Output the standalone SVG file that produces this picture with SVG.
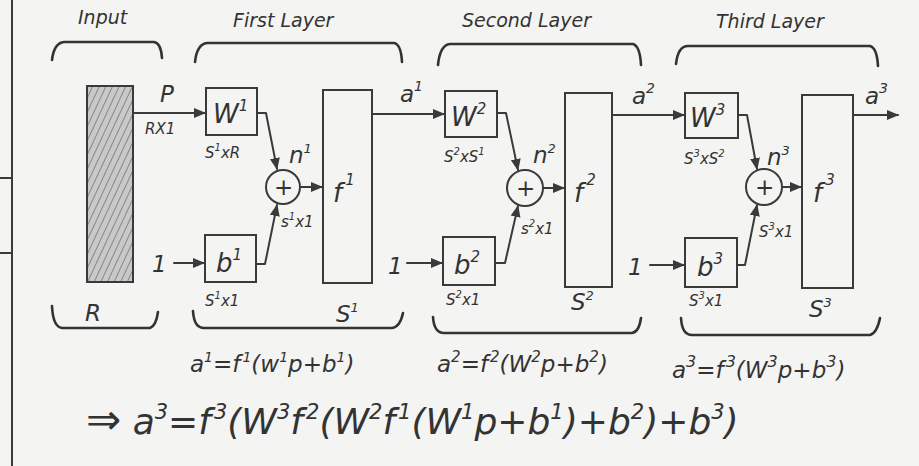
<svg xmlns="http://www.w3.org/2000/svg" width="919" height="466" viewBox="0 0 919 466">
<style>
.bg{fill:#f4f4f2}
.ln{fill:none;stroke:#3a3a3a;stroke-width:2;stroke-linecap:round;stroke-linejoin:round}
.bx{fill:none;stroke:#3a3a3a;stroke-width:2}
.br{fill:none;stroke:#333;stroke-width:2.6;stroke-linecap:round;stroke-linejoin:round}
text{font-family:"DejaVu Sans","Liberation Sans",sans-serif;font-style:oblique;fill:#333}
.ttl{font-size:19px}
.lab{font-size:23px}
.box{font-size:26px}
.dim{font-size:15px}
.eq{font-size:23px}
.fin{font-size:36px}
</style>
<defs>
<marker id="ah" markerUnits="userSpaceOnUse" markerWidth="14" markerHeight="12" refX="11" refY="6" orient="auto">
<path d="M0,1 L12,6 L0,11 Z" fill="#3a3a3a"/>
</marker>
<pattern id="hatch" patternUnits="userSpaceOnUse" width="6" height="6" patternTransform="rotate(25)">
<rect width="6" height="6" fill="#c9c9c9"/>
<line x1="0" y1="0" x2="0" y2="6" stroke="#808080" stroke-width="1.8"/>
</pattern>
</defs>
<rect class="bg" x="0" y="0" width="919" height="466"/>
<g id="margin">
<path class="ln" d="M12,0 V466"/>
<path class="ln" d="M0,178 H11 M0,253 H11" stroke-width="1"/>
</g>
<g id="titles">
<text class="ttl" x="78" y="24">Input</text>
<text class="ttl" x="233" y="27">First Layer</text>
<text class="ttl" x="462" y="27">Second Layer</text>
<text class="ttl" x="716" y="28">Third Layer</text>
</g>
<g id="braces">
<path class="br" d="M52,60 Q54,43 64,42 H154 Q161,43 162,58"/>
<path class="br" d="M195,62 Q197,44 207,43 H394 Q401,44 402,62"/>
<path class="br" d="M438,65 Q440,45 450,44 H633 Q640,46 641,65"/>
<path class="br" d="M676,64 Q678,46 688,46 H870 Q877,48 878,66"/>
<path class="br" d="M52,306 Q53,327 62,328 H150 Q156,326 158,312"/>
<path class="br" d="M193,311 Q194,328 204,328 H392 Q400,327 403,313"/>
<path class="br" d="M433,317 Q434,333 444,333 H632 Q639,332 641,318"/>
<path class="br" d="M681,318 Q682,335 692,335 H870 Q877,333 880,318"/>
</g>
<g id="input">
<rect x="87" y="86" width="46" height="196" fill="url(#hatch)" stroke="#3a3a3a" stroke-width="2"/>
<text class="lab" x="85" y="321" font-size="26" font-style="normal">R</text>
</g>
<g id="W1"><rect class="bx" x="206" y="88" width="51" height="47"/><text class="box" x="213" y="123">W<tspan font-size="15" dy="-12">1</tspan></text></g>
<g id="b1"><rect class="bx" x="205" y="235" width="51" height="47"/><text class="box" x="216" y="272">b<tspan font-size="15" dy="-12">1</tspan></text></g>
<g id="sum1"><circle class="bx" cx="283" cy="187" r="17"/><text class="lab" x="274" y="195" font-style="normal">+</text></g>
<g id="f1"><rect class="bx" x="323" y="90" width="49" height="193"/><text class="box" x="333" y="202" font-size="30">f<tspan font-size="15" dx="3" dy="-17">1</tspan></text></g>
<g id="W2"><rect class="bx" x="445" y="91" width="52" height="46"/><text class="box" x="451" y="126">W<tspan font-size="15" dy="-12">2</tspan></text></g>
<g id="b2"><rect class="bx" x="443" y="237" width="52" height="48"/><text class="box" x="454" y="274">b<tspan font-size="15" dy="-12">2</tspan></text></g>
<g id="sum2"><circle class="bx" cx="525" cy="188" r="18"/><text class="lab" x="516" y="196" font-style="normal">+</text></g>
<g id="f2"><rect class="bx" x="565" y="93" width="47" height="194"/><text class="box" x="574" y="202" font-size="30">f<tspan font-size="15" dx="3" dy="-17">2</tspan></text></g>
<g id="W3"><rect class="bx" x="685" y="93" width="53" height="45"/><text class="box" x="690" y="127">W<tspan font-size="15" dy="-12">3</tspan></text></g>
<g id="b3"><rect class="bx" x="685" y="238" width="52" height="49"/><text class="box" x="697" y="276">b<tspan font-size="15" dy="-12">3</tspan></text></g>
<g id="sum3"><circle class="bx" cx="764" cy="187" r="18"/><text class="lab" x="755" y="195" font-style="normal">+</text></g>
<g id="f3"><rect class="bx" x="802" y="95" width="51" height="193"/><text class="box" x="813" y="202" font-size="30">f<tspan font-size="15" dx="3" dy="-17">3</tspan></text></g>
<g id="connectors">
<path class="ln" d="M133,113 H205" marker-end="url(#ah)"/>
<path class="ln" d="M174,263 H204" marker-end="url(#ah)"/>
<path class="ln" d="M257,113 H266 L277,169" marker-end="url(#ah)"/>
<path class="ln" d="M256,264 H265 L277,205" marker-end="url(#ah)"/>
<path class="ln" d="M300,187 H322" marker-end="url(#ah)"/>
<path class="ln" d="M372,114 H444" marker-end="url(#ah)"/>
<path class="ln" d="M407,263 H442" marker-end="url(#ah)"/>
<path class="ln" d="M497,113 H506 L518,170" marker-end="url(#ah)"/>
<path class="ln" d="M495,263 H505 L518,206" marker-end="url(#ah)"/>
<path class="ln" d="M543,188 H564" marker-end="url(#ah)"/>
<path class="ln" d="M612,115 H684" marker-end="url(#ah)"/>
<path class="ln" d="M650,265 H684" marker-end="url(#ah)"/>
<path class="ln" d="M738,115 H747 L757,169" marker-end="url(#ah)"/>
<path class="ln" d="M737,265 H745 L757,205" marker-end="url(#ah)"/>
<path class="ln" d="M782,187 H801" marker-end="url(#ah)"/>
<path class="ln" d="M853,115 H898" marker-end="url(#ah)"/>
</g>
<g id="labels">
<text class="lab" x="160" y="102" font-size="25">P</text>
<text class="dim" x="145" y="134" font-size="12">RX1</text>
<text class="dim" x="205" y="158">S<tspan font-size="10" dy="-7">1</tspan><tspan dy="7">xR</tspan></text>
<text class="lab" x="289" y="163" font-size="20">n<tspan font-size="13" dy="-10">1</tspan></text>
<text class="dim" x="281" y="227">s<tspan font-size="10" dy="-7">1</tspan><tspan dy="7">x1</tspan></text>
<text class="lab" x="152" y="272" font-size="25" font-style="normal">1</text>
<text class="dim" x="205" y="306">S<tspan font-size="10" dy="-7">1</tspan><tspan dy="7">x1</tspan></text>
<text class="lab" x="336" y="322" font-size="21">S<tspan font-size="13" dy="-10">1</tspan></text>
<text class="lab" x="400" y="102" font-size="25">a<tspan font-size="14" dy="-11">1</tspan></text>
<text class="dim" x="444" y="162">S<tspan font-size="10" dy="-7">2</tspan><tspan dy="7">xS</tspan><tspan font-size="10" dy="-7">1</tspan></text>
<text class="lab" x="533" y="163" font-size="20">n<tspan font-size="13" dy="-10">2</tspan></text>
<text class="dim" x="521" y="234">s<tspan font-size="10" dy="-7">2</tspan><tspan dy="7">x1</tspan></text>
<text class="lab" x="388" y="274" font-size="25" font-style="normal">1</text>
<text class="dim" x="446" y="305">S<tspan font-size="10" dy="-7">2</tspan><tspan dy="7">x1</tspan></text>
<text class="lab" x="571" y="310" font-size="21">S<tspan font-size="13" dy="-10">2</tspan></text>
<text class="lab" x="632" y="104" font-size="25">a<tspan font-size="14" dy="-11">2</tspan></text>
<text class="dim" x="684" y="164">S<tspan font-size="10" dy="-7">3</tspan><tspan dy="7">xS</tspan><tspan font-size="10" dy="-7">2</tspan></text>
<text class="lab" x="767" y="165" font-size="20">n<tspan font-size="13" dy="-10">3</tspan></text>
<text class="dim" x="759" y="237">S<tspan font-size="10" dy="-7">3</tspan><tspan dy="7">x1</tspan></text>
<text class="lab" x="628" y="275" font-size="25" font-style="normal">1</text>
<text class="dim" x="689" y="306">S<tspan font-size="10" dy="-7">3</tspan><tspan dy="7">x1</tspan></text>
<text class="lab" x="809" y="317" font-size="21">S<tspan font-size="13" dy="-10">3</tspan></text>
<text class="lab" x="865" y="104" font-size="25">a<tspan font-size="14" dy="-11">3</tspan></text>
</g>
<g id="equations">
<text class="eq" x="190" y="372">a<tspan font-size="14" dy="-10">1</tspan><tspan dy="10">=f</tspan><tspan font-size="14" dx="2" dy="-10">1</tspan><tspan dy="10">(w</tspan><tspan font-size="14" dy="-10">1</tspan><tspan dy="10">p+b</tspan><tspan font-size="14" dy="-10">1</tspan><tspan dy="10">)</tspan></text>
<text class="eq" x="437" y="372" font-size="24">a<tspan font-size="15" dy="-10">2</tspan><tspan dy="10">=f</tspan><tspan font-size="15" dx="2" dy="-10">2</tspan><tspan dy="10">(W</tspan><tspan font-size="15" dy="-10">2</tspan><tspan dy="10">p+b</tspan><tspan font-size="15" dy="-10">2</tspan><tspan dy="10">)</tspan></text>
<text class="eq" x="672" y="378" font-size="26">a<tspan font-size="16" dy="-11">3</tspan><tspan dy="11">=f</tspan><tspan font-size="16" dx="2" dy="-11">3</tspan><tspan dy="11">(W</tspan><tspan font-size="16" dy="-11">3</tspan><tspan dy="11">p+b</tspan><tspan font-size="16" dy="-11">3</tspan><tspan dy="11">)</tspan></text>
<text class="fin" x="86" y="434"><tspan font-style="normal" font-size="42">⇒</tspan> a<tspan font-size="21" dy="-15">3</tspan><tspan dy="15">=f</tspan><tspan font-size="21" dx="3" dy="-15">3</tspan><tspan dy="15">(W</tspan><tspan font-size="21" dy="-15">3</tspan><tspan dy="15">f</tspan><tspan font-size="21" dx="3" dy="-15">2</tspan><tspan dy="15">(W</tspan><tspan font-size="21" dy="-15">2</tspan><tspan dy="15">f</tspan><tspan font-size="21" dx="3" dy="-15">1</tspan><tspan dy="15">(W</tspan><tspan font-size="21" dy="-15">1</tspan><tspan dy="15">p+b</tspan><tspan font-size="21" dy="-15">1</tspan><tspan dy="15">)+b</tspan><tspan font-size="21" dy="-15">2</tspan><tspan dy="15">)+b</tspan><tspan font-size="21" dy="-15">3</tspan><tspan dy="15">)</tspan></text>
</g>
</svg>
